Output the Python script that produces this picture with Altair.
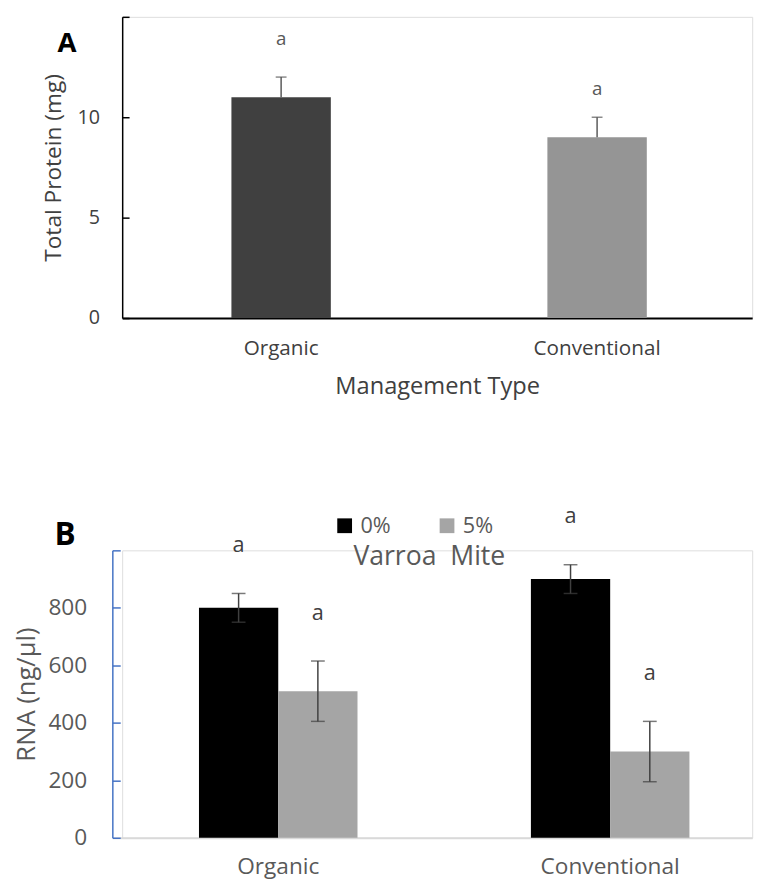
import altair as alt
import pandas as pd

# ---------------- data ----------------
mgmt = ["Organic", "Conventional"]
protein = [11.0, 9.0]
protein_err = [1.0, 1.0]
sig_top = ["a", "a"]

rna_mgmt = ["Organic", "Organic", "Conventional", "Conventional"]
mite = ["0%", "5%", "0%", "5%"]
rna = [800, 510, 900, 300]
rna_err = [50, 105, 50, 105]
sig_bottom = ["a", "a", "a", "a"]
legend_title = "Varroa\u00a0 Mite"

top_labels = [0, 5, 10]
top_ticks = [0, 5, 10, 15]
bottom_labels = [0, 200, 400, 600, 800]
bottom_ticks = [0, 200, 400, 600, 800, 1000]

FONT = "Open Sans, Noto Sans, sans-serif"

W = 640
H_TOP = 306
H_BOT = 292

# ---------------- panel A ----------------
df_top = pd.DataFrame({"mgmt": mgmt, "protein": protein, "err": protein_err, "sig": sig_top})
df_top["hi"] = df_top["protein"] + df_top["err"]

x_top = alt.X(
    "mgmt:N", sort=mgmt, title="Management Type",
    scale=alt.Scale(paddingInner=0.6854, paddingOuter=0.3396, align=0.509),
    axis=alt.Axis(labelAngle=0, labelFont=FONT, labelFontSize=21, labelColor="#404040",
                  labelPadding=20, ticks=False, tickSize=0, domainColor="#000000",
                  domainWidth=2, titleFont=FONT, titleFontSize=24, titleFontWeight="normal",
                  titleColor="#404040", titlePadding=17),
)
ys_top = alt.Scale(domain=[0, 15], nice=False, zero=True)

bars_top = alt.Chart(df_top).mark_bar().encode(
    x=x_top,
    y=alt.Y("protein:Q", scale=ys_top, title="Total Protein (mg)",
            axis=alt.Axis(values=top_labels, ticks=False, tickSize=0, labelPadding=23, grid=False,
                          domainColor="#000000", domainWidth=1.5, labelFont=FONT,
                          labelFontSize=20, labelColor="#404040", titleFont=FONT,
                          titleFontSize=23, titleFontWeight="normal", titleColor="#404040",
                          titlePadding=12)),
    color=alt.Color("mgmt:N", scale=alt.Scale(domain=mgmt, range=["#404040", "#959595"]), legend=None),
)
err_top = alt.Chart(df_top).mark_rule(color="#595959", strokeWidth=1.5).encode(
    x=x_top,
    y=alt.Y("protein:Q", scale=ys_top,
            axis=alt.Axis(orient="right", offset=-W, values=top_ticks, labels=False, domain=False,
                          grid=False, ticks=True, tickSize=7, tickColor="#000000", tickWidth=1.5,
                          title=None)),
    y2="hi:Q",
)
cap_top = alt.Chart(df_top).mark_tick(color="#595959", thickness=1.5, size=11).encode(
    x=x_top, y=alt.Y("hi:Q", scale=ys_top, axis=None)
)
sig_t = alt.Chart(df_top).transform_calculate(lab="datum.protein * 1.265").mark_text(
    font=FONT, fontSize=19, color="#595959", baseline="middle"
).encode(x=x_top, y=alt.Y("lab:Q", scale=ys_top, axis=None), text="sig:N")
lab_A = alt.Chart(pd.DataFrame({"t": ["A"]})).mark_text(
    font=FONT, fontSize=28, fontWeight="bold", color="#000000", align="center", baseline="middle"
).encode(x=alt.value(-56), y=alt.value(28), text="t:N")

top = alt.layer(bars_top, err_top, cap_top, sig_t, lab_A).resolve_axis(y="independent").properties(
    width=W, height=H_TOP
)

# ---------------- panel B ----------------
df_bot = pd.DataFrame({"mgmt": rna_mgmt, "mite": mite, "rna": rna, "err": rna_err, "sig": sig_bottom})
df_bot["lo"] = df_bot["rna"] - df_bot["err"]
df_bot["hi"] = df_bot["rna"] + df_bot["err"]

x_bot = alt.X(
    "mgmt:N", sort=mgmt, title=None,
    scale=alt.Scale(range=[-10, W], paddingInner=0.5224, paddingOuter=0.225, align=0.58),
    axis=alt.Axis(labelAngle=0, labelFont=FONT, labelFontSize=23, labelColor="#595959",
                  labelPadding=18, ticks=False, tickSize=0, domainColor="#d9d9d9", domainWidth=2),
)
xo = alt.XOffset("mite:N", sort=["0%", "5%"], scale=alt.Scale(paddingInner=0, paddingOuter=0))
ys_bot = alt.Scale(domain=[0, 1000], nice=False, zero=True)

bars_bot = alt.Chart(df_bot).mark_bar().encode(
    x=x_bot, xOffset=xo,
    y=alt.Y("rna:Q", scale=ys_bot, title="RNA (ng/µl)",
            axis=alt.Axis(values=bottom_labels, ticks=False, tickSize=0, labelPadding=26, grid=False,
                          offset=10, domainColor="#4472C4", domainWidth=1.5, labelFont=FONT,
                          labelFontSize=23, labelColor="#595959", titleFont=FONT,
                          titleFontSize=26, titleFontWeight="normal", titleColor="#595959",
                          titlePadding=9)),
    color=alt.Color("mite:N", sort=["0%", "5%"],
                    scale=alt.Scale(domain=["0%", "5%"], range=["#000000", "#a5a5a5"]),
                    legend=alt.Legend(orient="none", legendX=215, legendY=-36, direction="horizontal",
                                      title=None,
                                      symbolType="square", symbolSize=225, symbolStrokeWidth=0,
                                      symbolOpacity=1, labelFont=FONT, labelFontSize=22,
                                      labelColor="#595959", labelOffset=5, columnPadding=46,
                                      padding=0)),
)
err_bot = alt.Chart(df_bot).mark_rule(color="#404040", strokeWidth=1.5).encode(
    x=x_bot, xOffset=xo,
    y=alt.Y("lo:Q", scale=ys_bot,
            axis=alt.Axis(orient="right", offset=-(W + 10), values=bottom_ticks, labels=False,
                          domain=False, grid=False, ticks=True, tickSize=8, tickColor="#4472C4",
                          tickWidth=1.5, title=None)),
    y2="hi:Q",
)
cap_lo = alt.Chart(df_bot).mark_tick(color="#404040", thickness=1.5, size=14).encode(
    x=x_bot, xOffset=xo, y=alt.Y("lo:Q", scale=ys_bot, axis=None)
)
cap_hi = alt.Chart(df_bot).mark_tick(color="#404040", thickness=1.5, size=14).encode(
    x=x_bot, xOffset=xo, y=alt.Y("hi:Q", scale=ys_bot, axis=None)
)
sig_b = alt.Chart(df_bot).mark_text(font=FONT, fontSize=22, color="#404040", dy=-49, baseline="middle").encode(
    x=x_bot, xOffset=xo, y=alt.Y("hi:Q", scale=ys_bot, axis=None), text="sig:N"
)
lab_B = alt.Chart(pd.DataFrame({"t": ["B"]})).mark_text(
    font=FONT, fontSize=32, fontWeight="bold", color="#000000", align="center", baseline="middle"
).encode(x=alt.value(-58), y=alt.value(-15), text="t:N")
leg_title = alt.Chart(pd.DataFrame({"t": [legend_title]})).mark_text(
    font=FONT, fontSize=27, color="#595959", align="center", baseline="middle"
).encode(x=alt.value(312), y=alt.value(7), text="t:N")

bottom = alt.layer(bars_bot, err_bot, cap_lo, cap_hi, sig_b, lab_B, leg_title).resolve_axis(
    y="independent"
).properties(width=W, height=H_BOT)

chart = alt.vconcat(top, bottom, spacing=236, bounds="flush").resolve_scale(
    color="independent"
).resolve_legend(color="independent").properties(
    padding={"left": 5, "top": 0, "right": 0, "bottom": 0}
).configure_view(stroke=None).configure(background="#ffffff")

chart.save("out.html", embed_options={"renderer": "svg", "actions": False})
